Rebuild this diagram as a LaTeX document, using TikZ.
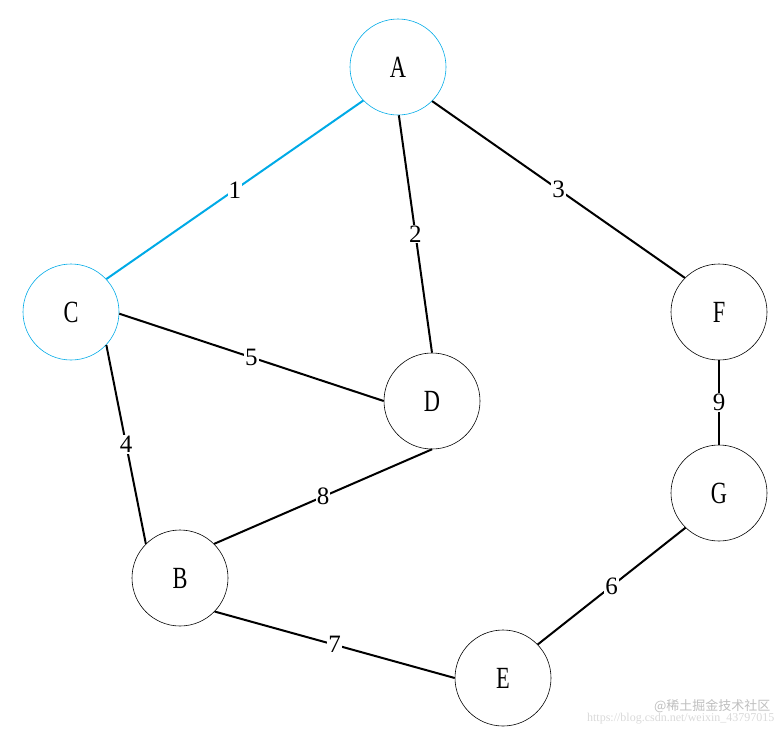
\documentclass[tikz,border=0pt]{standalone}
\usepackage{fontspec}
\setmainfont{Liberation Serif}
\newfontfamily\cjk{Noto Sans CJK SC}
\begin{document}
\begin{tikzpicture}[x=1pt,y=-1pt,
  vtx/.style={circle,draw=black,line width=0.6pt,minimum size=96pt,inner sep=0pt,font=\fontsize{28}{28}\selectfont},
  hl/.style={draw={rgb,255:red,0;green,170;blue,230}},
  edge/.style={line width=2pt},
  lbl/.style={fill=white,inner sep=1pt,font=\fontsize{25}{25}\selectfont}]
\useasboundingbox (0,0) rectangle (784,737);
\node[vtx,hl] (A) at (398,67) {\scalebox{0.8}[1.1]{A}};
\node[vtx,hl] (C) at (71,312) {\scalebox{0.8}[1.1]{C}};
\node[vtx] (F) at (719,312) {\scalebox{0.8}[1.1]{F}};
\node[vtx] (D) at (432,401) {\scalebox{0.8}[1.1]{D}};
\node[vtx] (G) at (719,493) {\scalebox{0.8}[1.1]{G}};
\node[vtx] (B) at (180,578) {\scalebox{0.8}[1.1]{B}};
\node[vtx] (E) at (503,678) {\scalebox{0.8}[1.1]{E}};
\draw[edge,draw={rgb,255:red,0;green,170;blue,230}] (C.43) -- node[lbl]{1} (A.224);
\draw[edge] (A.271) -- node[lbl]{2} (D.90);
\draw[edge] (A.315) -- node[lbl]{3} (F.135);
\draw[edge] (C.317) -- node[lbl]{4} (B.135);
\draw[edge] (C.358) -- node[lbl]{5} (D.180);
\draw[edge] (G.226) -- node[lbl]{6} (E.44);
\draw[edge] (B.316) -- node[lbl]{7} (E.180);
\draw[edge] (D.270) -- node[lbl]{8} (B.45);
\draw[edge] (F.270) -- node[lbl]{9} (G.90);
\node[text=black!25,font=\fontsize{13}{13}\selectfont,anchor=east] (wm1) at (774,706) {\cjk @稀土掘金技术社区};
\node[text=black!15,font=\fontsize{12}{12}\selectfont,anchor=east] (wm2) at (778,719) {https://blog.csdn.net/weixin\_43797015};
\end{tikzpicture}
\end{document}
